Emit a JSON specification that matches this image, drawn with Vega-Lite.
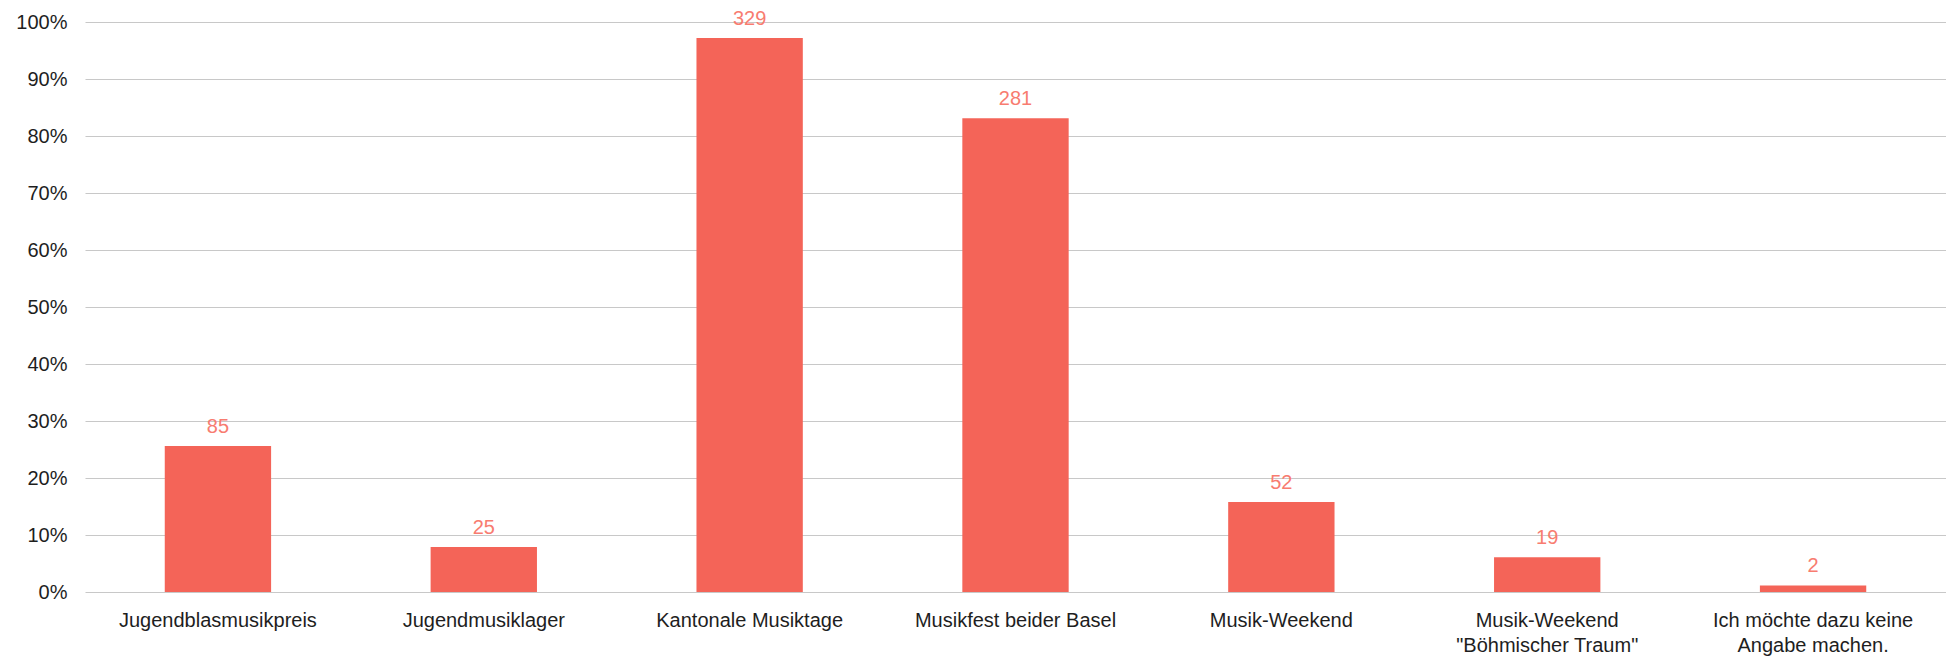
{
  "$schema": "https://vega.github.io/schema/vega-lite/v6.json",
  "width": 1861,
  "height": 570,
  "autosize": {"type": "none"},
  "padding": {"left": 85, "top": 22, "right": 0, "bottom": 68},
  "background": "white",
  "config": {
    "view": {"stroke": null},
    "font": "Liberation Sans"
  },
  "data": {
    "values": [
      {"key": "a", "label": "Jugendblasmusikpreis", "pct": 0.256, "n": 85},
      {"key": "b", "label": "Jugendmusiklager", "pct": 0.079, "n": 25},
      {"key": "c", "label": "Kantonale Musiktage", "pct": 0.972, "n": 329},
      {"key": "d", "label": "Musikfest beider Basel", "pct": 0.831, "n": 281},
      {"key": "e", "label": "Musik-Weekend", "pct": 0.158, "n": 52},
      {"key": "f", "label": "Musik-Weekend \"Böhmischer Traum\"", "pct": 0.061, "n": 19},
      {"key": "g", "label": "Ich möchte dazu keine Angabe machen.", "pct": 0.0115, "n": 2}
    ]
  },
  "encoding": {
    "x": {
      "field": "key",
      "type": "nominal",
      "sort": null,
      "scale": {"paddingInner": 0.6, "paddingOuter": 0.3},
      "axis": {
        "title": null,
        "domain": false,
        "ticks": false,
        "labelAngle": 0,
        "labelFontSize": 20,
        "labelColor": "#1e1e1e",
        "labelPadding": 18,
        "labelLineHeight": 25,
        "labelLimit": 0,
        "labelExpr": "datum.value == 'a' ? 'Jugendblasmusikpreis' : datum.value == 'b' ? 'Jugendmusiklager' : datum.value == 'c' ? 'Kantonale Musiktage' : datum.value == 'd' ? 'Musikfest beider Basel' : datum.value == 'e' ? 'Musik-Weekend' : datum.value == 'f' ? ['Musik-Weekend', '\"Böhmischer Traum\"'] : ['Ich möchte dazu keine', 'Angabe machen.']"
      }
    },
    "y": {
      "field": "pct",
      "type": "quantitative",
      "scale": {"domain": [0, 1], "nice": false},
      "axis": {
        "title": null,
        "format": ".0%",
        "values": [0, 0.1, 0.2, 0.3, 0.4, 0.5, 0.6, 0.7, 0.8, 0.9, 1],
        "domain": false,
        "ticks": false,
        "grid": true,
        "gridColor": "#c8c8c8",
        "gridWidth": 1.2,
        "labelFontSize": 20,
        "labelColor": "#1e1e1e",
        "labelPadding": 18
      }
    }
  },
  "layer": [
    {
      "mark": {"type": "bar", "color": "#F46458"}
    },
    {
      "mark": {"type": "text", "color": "#F87C70", "fontSize": 20, "baseline": "bottom", "dy": -9},
      "encoding": {"text": {"field": "n", "type": "quantitative"}}
    }
  ]
}
